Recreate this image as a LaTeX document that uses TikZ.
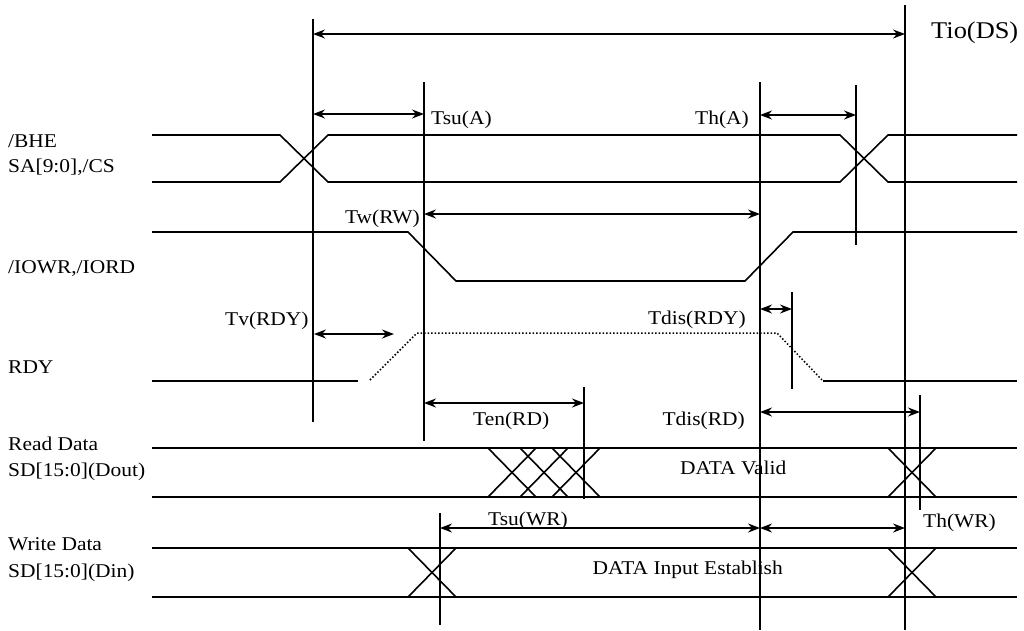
\documentclass[tikz,border=0pt]{standalone}
\usepackage{fontspec}
\setmainfont[FakeStretch=1.1]{Liberation Serif}
\usepackage{tikz}
\usetikzlibrary{arrows.meta}

\tikzset{
	sig/.style={line width=1.6pt},
	gap/.style={line width=1.6pt, <->, >={Stealth[length=12pt,width=9pt,inset=4pt]}},
	lbl/.style={inner sep=0pt, font=\fontsize{19.5}{22}\selectfont}
}

\begin{document}
\begin{tikzpicture}[x=1pt,y=-1pt]
\useasboundingbox (0,0) rectangle (1024,630);

% vertical reference lines
\draw[sig] (313,19) -- (313,422);
\draw[sig] (424,82) -- (424,441);
\draw[sig] (760,82) -- (760,630);
\draw[sig] (905,5) -- (905,630);
\draw[sig] (856,85) -- (856,245);
\draw[sig] (792,292) -- (792,389);
\draw[sig] (584,387) -- (584,499);
\draw[sig] (920,395) -- (920,510);
\draw[sig] (440,513) -- (440,625);

% /BHE, SA[9:0], /CS
\draw[sig] (152,135) -- (280,135) -- (328,182) -- (840,182) -- (888,135) -- (1017,135);
\draw[sig] (152,182) -- (280,182) -- (328,135) -- (840,135) -- (888,182) -- (1017,182);

% /IOWR, /IORD
\draw[sig] (152,232) -- (408,232) -- (456,281) -- (745,281) -- (793,232) -- (1017,232);

% RDY
\draw[sig] (152,381) -- (358,381);
\draw[line width=1.5pt, dotted] (370,380) -- (417,333) -- (777,333) -- (823,381);
\draw[sig] (823,381) -- (1017,381);

% read data
\draw[sig] (152,448) -- (1017,448);
\draw[sig] (152,497) -- (1017,497);
\foreach \x in {488,520,552,888} {
	\draw[sig] (\x,448) -- (\x+48,497);
	\draw[sig] (\x,497) -- (\x+48,448);
}

% write data
\draw[sig] (152,548) -- (1017,548);
\draw[sig] (152,597) -- (1017,597);
\foreach \x in {408,888} {
	\draw[sig] (\x,548) -- (\x+48,597);
	\draw[sig] (\x,597) -- (\x+48,548);
}

% timing arrows
\draw[gap] (313,34) -- (905,34);
\draw[gap] (313,114) -- (424,114);
\draw[gap] (760,115) -- (856,115);
\draw[gap] (424,214) -- (760,214);
\draw[gap] (314,334) -- (394,334);
\draw[gap] (760,309) -- (792,309);
\draw[gap] (424,403) -- (584,403);
\draw[gap] (760,412) -- (920,412);
\draw[gap] (440,528) -- (760,528);
\draw[gap] (760,528) -- (905,528);

% timing labels
\node[lbl, anchor=base west, font=\fontsize{24}{28}\selectfont] (tio) at (931,38) {Tio(DS)};
\node[lbl, anchor=base west] (tsua) at (431,124) {Tsu(A)};
\node[lbl, anchor=base east] (tha) at (749,124) {Th(A)};
\node[lbl, anchor=base east] (twrw) at (420,223) {Tw(RW)};
\node[lbl, anchor=base west] (tvrdy) at (225,325) {Tv(RDY)};
\node[lbl, anchor=base east] (tdisrdy) at (746,324) {Tdis(RDY)};
\node[lbl, anchor=base west] (tenrd) at (473,425) {Ten(RD)};
\node[lbl, anchor=base east] (tdisrd) at (745,425) {Tdis(RD)};
\node[lbl, anchor=base west] (tsuwr) at (488,525) {Tsu(WR)};
\node[lbl, anchor=base west] (thwr) at (923,527) {Th(WR)};
\node[lbl, anchor=base west] (valid) at (680,474) {DATA Valid};
\node[lbl, anchor=base east] (input) at (783,574) {DATA Input Establish};

% signal names
\node[lbl, anchor=base west] (bhe) at (8,147) {/BHE};
\node[lbl, anchor=base west] (sacs) at (8,172) {SA[9:0],/CS};
\node[lbl, anchor=base west] (iowr) at (8,273) {/IOWR,/IORD};
\node[lbl, anchor=base west] (rdy) at (8,373) {RDY};
\node[lbl, anchor=base west] (rd) at (8,450) {Read Data};
\node[lbl, anchor=base west] (dout) at (8,476) {SD[15:0](Dout)};
\node[lbl, anchor=base west] (wd) at (8,550) {Write Data};
\node[lbl, anchor=base west] (din) at (8,577) {SD[15:0](Din)};
\end{tikzpicture}
\end{document}
